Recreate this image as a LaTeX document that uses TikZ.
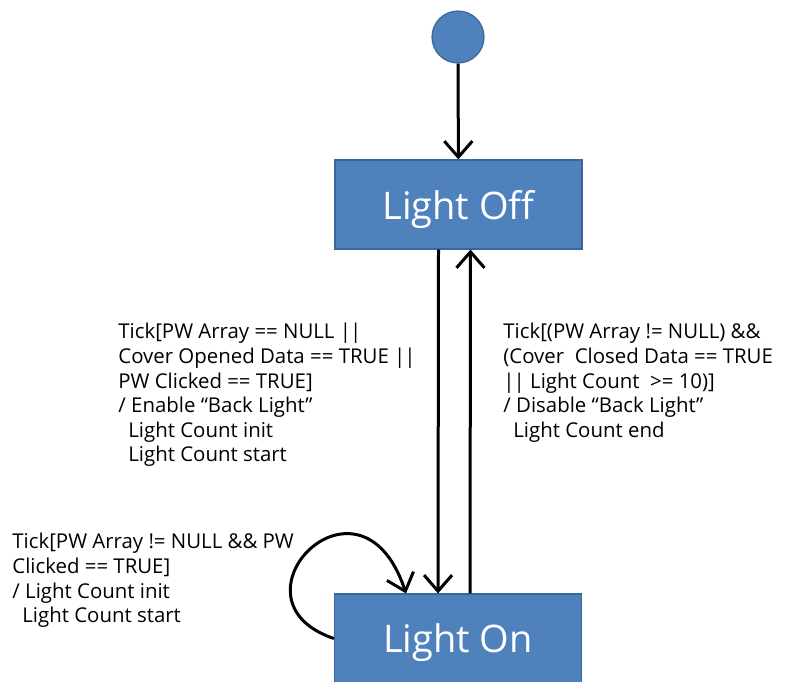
\documentclass[tikz,border=0pt]{standalone}
\usepackage{fontspec}
\setmainfont{Open Sans}
\usetikzlibrary{arrows.meta,positioning}
\definecolor{statefill}{HTML}{4F81BD}
\definecolor{stateborder}{HTML}{3B6699}

\begin{document}
\begin{tikzpicture}[x=0.5pt,y=-0.5pt,->,>={Straight Barb[length=8pt,width=14pt]},
  state/.style={draw=stateborder,fill=statefill,text=white,line width=0.6pt,text depth=0pt,
    minimum width=123.5pt,minimum height=44.5pt,font=\fontsize{19}{22}\selectfont},
  guard/.style={align=left,anchor=north west,inner sep=0pt,font=\fontsize{10.2}{12.3}\selectfont}]
\useasboundingbox (0,0) rectangle (786,681);
\node[circle,draw=stateborder,fill=statefill,line width=0.6pt,minimum size=26pt,inner sep=0pt] (init) at (458,37) {};
\node[state] (off) at (458.5,204.5) {Light Off};
\node[state] (on) at (458,638.5) {Light On};
\draw[line width=1.5pt] (init) -- (off);
\draw[line width=1.5pt] ([xshift=-10pt]off.south) -- ([xshift=-10pt]on.north);
\draw[line width=1.5pt] ([xshift=6pt]on.north) -- ([xshift=6pt]off.south);
\draw[line width=1.5pt] (on.west) .. controls (220,600) and (360,455) .. ([xshift=-26pt]on.north);
\node[guard] (enable) at (118,323) {Tick[PW Array == NULL |\kern-0.5pt|\\Cover Opened Data == TRUE |\kern-0.5pt|\\PW Clicked == TRUE]\\/ Enable “Back Light”\\\hspace{5pt}Light Count init\\\hspace{5pt}Light Count start};
\node[guard] (disable) at (503,323) {Tick[(PW Array != NULL) \&\&\\(Cover\ \ Closed Data == TRUE\\|\kern-0.5pt| Light Count \ >= 10)]\\/ Disable “Back Light”\\\hspace{5pt}Light Count end};
\node[guard] (restart) at (12,533) {Tick[PW Array != NULL \&\& PW\\Clicked == TRUE]\\/ Light Count init\\\hspace{5pt}Light Count start};
\end{tikzpicture}
\end{document}
